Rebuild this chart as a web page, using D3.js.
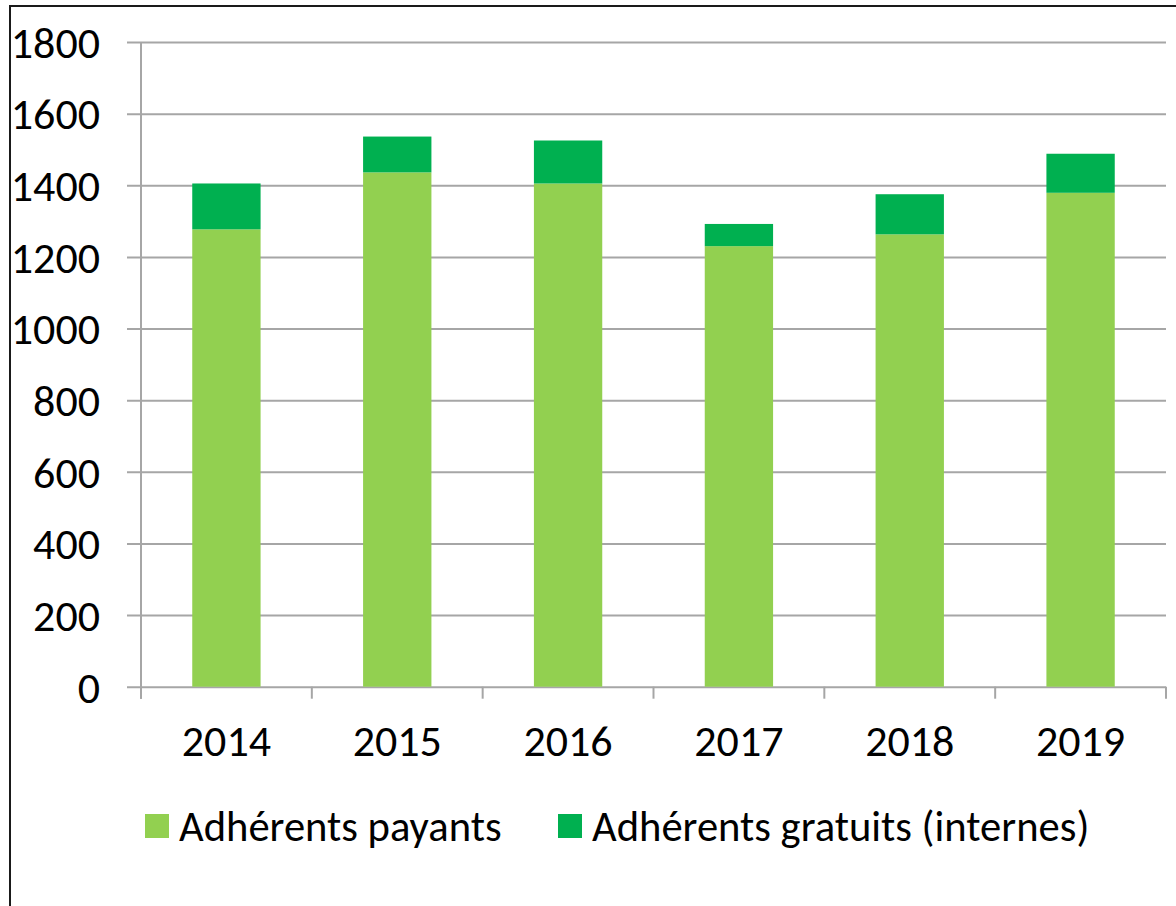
<!DOCTYPE html>
<html>
<head>
<meta charset="utf-8">
<script src="https://cdn.jsdelivr.net/npm/d3@7"></script>
<style>
  html, body { margin: 0; padding: 0; background: #ffffff; overflow: hidden; }
  svg { display: block; }
  text { font-family: Carlito, Lato, "Open Sans", sans-serif; fill: #000; }
</style>
</head>
<body>
<svg id="chart" width="1176" height="906"></svg>
<script>
// Membership by year: paying members and free (internal) members
const years = ["2014", "2015", "2016", "2017", "2018", "2019"];
const payants = [1277, 1436, 1405, 1230, 1263, 1379];
const gratuits = [128, 100, 120, 62, 112, 109];
const yTicks = [0, 200, 400, 600, 800, 1000, 1200, 1400, 1600, 1800];
const seriesNames = ["Adhérents payants", "Adhérents gratuits (internes)"];
const seriesColors = ["#92D050", "#00B050"];

const svg = d3.select("#chart");

// outer frame of the chart area
svg.append("rect")
  .attr("x", 10).attr("y", 6)
  .attr("width", 1180).attr("height", 910)
  .attr("fill", "none").attr("stroke", "#1a1a1a").attr("stroke-width", 2);

const plot = { left: 141, right: 1166, top: 42, bottom: 686.7 };
const labelSize = 44;
const legendSize = 42.6;

const x = d3.scaleBand()
  .domain(years)
  .range([plot.left, plot.right])
  .paddingInner(0.6)
  .paddingOuter(0.3);

const y = d3.scaleLinear()
  .domain([0, 1800])
  .range([plot.bottom, plot.top]);

// horizontal gridlines, extending left of the axis as tick marks
const yAxis = d3.axisLeft(y)
  .tickValues(yTicks)
  .tickSize(-(plot.right - plot.left))
  .tickSizeOuter(0)
  .tickPadding(0)
  .tickFormat(() => "");

const gy = svg.append("g")
  .attr("transform", `translate(${plot.left},0)`)
  .call(yAxis);
gy.select(".domain").remove();
gy.selectAll(".tick line")
  .attr("x1", -14)
  .attr("stroke", "#a6a6a6")
  .attr("stroke-width", 2);

// y tick labels
svg.append("g").selectAll("text")
  .data(yTicks)
  .join("text")
  .attr("x", 100)
  .attr("y", d => y(d))
  .attr("dy", "0.36em")
  .attr("text-anchor", "end")
  .attr("font-size", labelSize)
  .text(d => d);

// vertical axis line
svg.append("line")
  .attr("x1", plot.left).attr("x2", plot.left)
  .attr("y1", plot.top).attr("y2", plot.bottom + 12)
  .attr("stroke", "#a6a6a6").attr("stroke-width", 2);

// category boundary ticks along the bottom
const step = x.step();
const boundaries = d3.range(years.length + 1).map(i => plot.left + i * step);
svg.append("g").selectAll("line")
  .data(boundaries)
  .join("line")
  .attr("x1", d => d).attr("x2", d => d)
  .attr("y1", plot.bottom).attr("y2", plot.bottom + 12)
  .attr("stroke", "#a6a6a6").attr("stroke-width", 2);

// stacked bars
const rows = years.map((yr, i) => ({ year: yr, payants: payants[i], gratuits: gratuits[i] }));
const stack = d3.stack().keys(["payants", "gratuits"])(rows);

svg.append("g").selectAll("g")
  .data(stack)
  .join("g")
  .attr("fill", (d, i) => seriesColors[i])
  .selectAll("rect")
  .data(d => d)
  .join("rect")
  .attr("x", d => x(d.data.year))
  .attr("width", x.bandwidth())
  .attr("y", d => y(d[1]))
  .attr("height", d => y(d[0]) - y(d[1]));

// year labels
svg.append("g").selectAll("text")
  .data(years)
  .join("text")
  .attr("x", d => x(d) + x.bandwidth() / 2)
  .attr("y", 756)
  .attr("text-anchor", "middle")
  .attr("font-size", labelSize)
  .text(d => d);

// legend
const legendItems = [
  { name: seriesNames[0], color: seriesColors[0], x: 145 },
  { name: seriesNames[1], color: seriesColors[1], x: 558 }
];
const lg = svg.append("g").selectAll("g")
  .data(legendItems)
  .join("g")
  .attr("transform", d => `translate(${d.x},814)`);
lg.append("rect")
  .attr("width", 24).attr("height", 24)
  .attr("fill", d => d.color);
lg.append("text")
  .attr("x", 34)
  .attr("y", 27)
  .attr("font-size", legendSize)
  .text(d => d.name);
</script>
</body>
</html>
